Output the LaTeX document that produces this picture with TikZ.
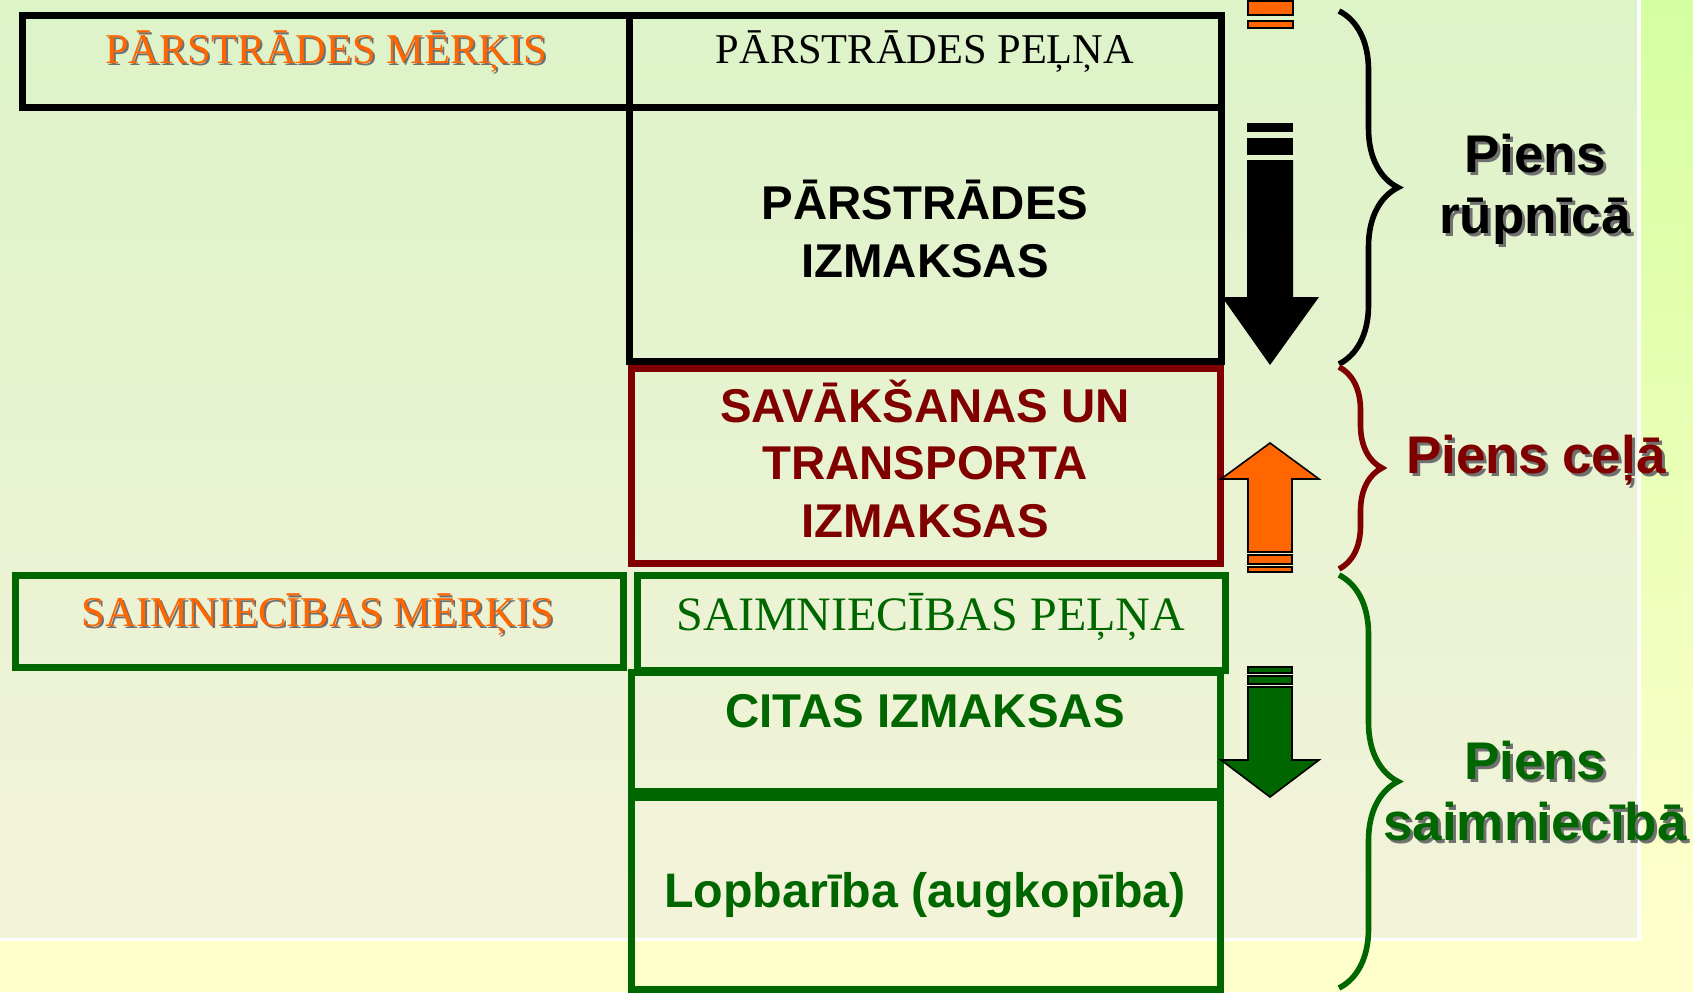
\documentclass[tikz,border=0pt]{standalone}
\usepackage{fontspec}
\setmainfont{Liberation Serif}
\setsansfont{Liberation Sans}
\usetikzlibrary{decorations.pathreplacing}

\definecolor{panelTop}{HTML}{DDF3C8}
\definecolor{panelBottom}{HTML}{F3F3DA}
\definecolor{stripTop}{HTML}{D4FFA0}
\definecolor{paleYellow}{HTML}{FFFFCC}
\definecolor{darkRed}{HTML}{800000}
\definecolor{darkGreen}{HTML}{006600}
\definecolor{brightOrange}{HTML}{FF6600}
\definecolor{shadowGray}{HTML}{707070}

\tikzset{
  boxline/.style={line width=3.5pt},
  serifText/.style={font=\fontsize{21.2}{25}\selectfont, anchor=base, inner sep=0pt},
  sansText/.style={font=\sffamily\bfseries\fontsize{23.7}{28.7}\selectfont, align=center, anchor=base, inner sep=0pt},
  pienText/.style={font=\sffamily\bfseries\fontsize{26.5}{30.5}\selectfont, align=center, anchor=base, inner sep=0pt},
  braceline/.style={decorate, line width=2.8pt, decoration={brace, amplitude=#1}},
  arrowline/.style={draw=black, line width=0.8pt},
}

\begin{document}
\begin{tikzpicture}[x=0.5pt, y=-0.5pt]

    % Background: slide panel, white rim and outer strips
    \useasboundingbox (0,0) rectangle (1693,992);
    \fill[paleYellow] (0,0) rectangle (1693,992);
    \shade[top color=stripTop, bottom color=paleYellow] (1640,0) rectangle (1693,941);
    \fill[white] (0,0) rectangle (1641,941);
    \shade[top color=panelTop, bottom color=panelBottom] (0,0) rectangle (1637,937);

    % Define the box corners
    \coordinate (A1) at (22,15);
    \coordinate (A2) at (629,107);
    \coordinate (B1) at (629,15);
    \coordinate (B2) at (1221,107);
    \coordinate (C2) at (1221,361);
    \coordinate (D1) at (631,368);
    \coordinate (D2) at (1220,563);
    \coordinate (E1) at (15,575);
    \coordinate (E2) at (623,667);
    \coordinate (F1) at (637,575);
    \coordinate (F2) at (1225,670);
    \coordinate (G1) at (631,672);
    \coordinate (G2) at (1220,791);
    \coordinate (H1) at (631,797);
    \coordinate (H2) at (1220,989);

    % Draw the boxes
    \draw[boxline] (A1) rectangle (A2);
    \draw[boxline] (B1) rectangle (B2);
    \draw[boxline] (B1 |- B2) rectangle (C2);
    \draw[boxline, darkRed] (D1) rectangle (D2);
    \draw[boxline, darkGreen] (E1) rectangle (E2);
    \draw[boxline, darkGreen] (F1) rectangle (F2);
    \draw[boxline, darkGreen] (G1) rectangle (G2);
    \draw[boxline, darkGreen] (H1) rectangle (H2);

    % Arrows between the boxes and the braces
    \filldraw[fill=brightOrange, arrowline] (1248,1) rectangle (1293,15);
    \filldraw[fill=brightOrange, arrowline] (1248,21) rectangle (1293,28);

    \fill[black] (1247,123) rectangle (1293,132);
    \fill[black] (1247,138) rectangle (1293,155);
    \fill[black] (1247,160) -- (1293,160) -- (1293,297) -- (1319,297)
        -- (1270,365) -- (1222,297) -- (1247,297) -- cycle;

    \filldraw[fill=brightOrange, arrowline] (1248,552) -- (1248,479) -- (1221,479)
        -- (1270,443) -- (1319,479) -- (1292,479) -- (1292,552) -- cycle;
    \filldraw[fill=brightOrange, arrowline] (1248,555) rectangle (1292,564);
    \filldraw[fill=brightOrange, arrowline] (1248,567) rectangle (1292,572);

    \filldraw[fill=darkGreen, arrowline] (1248,667) rectangle (1292,673);
    \filldraw[fill=darkGreen, arrowline] (1248,676) rectangle (1292,684);
    \filldraw[fill=darkGreen, arrowline] (1248,687) -- (1292,687) -- (1292,760)
        -- (1319,760) -- (1270,797) -- (1221,760) -- (1248,760) -- cycle;

    % Draw the braces
    \draw[braceline=29.5pt] (1339,11) -- (1339,364);
    \draw[braceline=21.5pt, darkRed] (1339,367) -- (1339,569);
    \draw[braceline=29.5pt, darkGreen] (1339,575) -- (1339,988);

    % Box labels (shadow first, then the text); a multi-line node sits on its last baseline
    \node[serifText, shadowGray] (parMerkisShadow) at (328,65) {PĀRSTRĀDES MĒRĶIS};
    \node[serifText, brightOrange] (parMerkis) at (326,63) {PĀRSTRĀDES MĒRĶIS};
    \node[serifText] (parPelna) at (925,63) {PĀRSTRĀDES PEĻŅA};
    \node[sansText] (parIzmaksas) at (925,277) {PĀRSTRĀDES\\IZMAKSAS};
    \node[sansText, darkRed] (transports) at (925,537) {SAVĀKŠANAS UN\\TRANSPORTA\\IZMAKSAS};
    \node[serifText, shadowGray] (saimMerkisShadow) at (320,628) {SAIMNIECĪBAS MĒRĶIS};
    \node[serifText, brightOrange] (saimMerkis) at (318,626) {SAIMNIECĪBAS MĒRĶIS};
    \node[serifText, darkGreen, font=\fontsize{24}{28}\selectfont] (saimPelna) at (931,630) {SAIMNIECĪBAS PEĻŅA};
    \node[sansText, darkGreen] (citas) at (925,727) {CITAS IZMAKSAS};
    \node[sansText, darkGreen, font=\sffamily\bfseries\fontsize{24.2}{29}\selectfont] (lopbariba) at (925,907) {Lopbarība (augkopība)};

    % Brace labels
    \node[pienText, shadowGray] (rupnicaShadow) at (1538,236) {Piens\\rūpnīcā};
    \node[pienText] (rupnica) at (1535,233) {Piens\\rūpnīcā};
    \node[pienText, shadowGray] (celaShadow) at (1539,476) {Piens ceļā};
    \node[pienText, darkRed] (cela) at (1536,473) {Piens ceļā};
    \node[pienText, shadowGray] (saimniecibaShadow) at (1538,843) {Piens\\saimniecībā};
    \node[pienText, darkGreen] (saimnieciba) at (1535,840) {Piens\\saimniecībā};

\end{tikzpicture}
\end{document}
